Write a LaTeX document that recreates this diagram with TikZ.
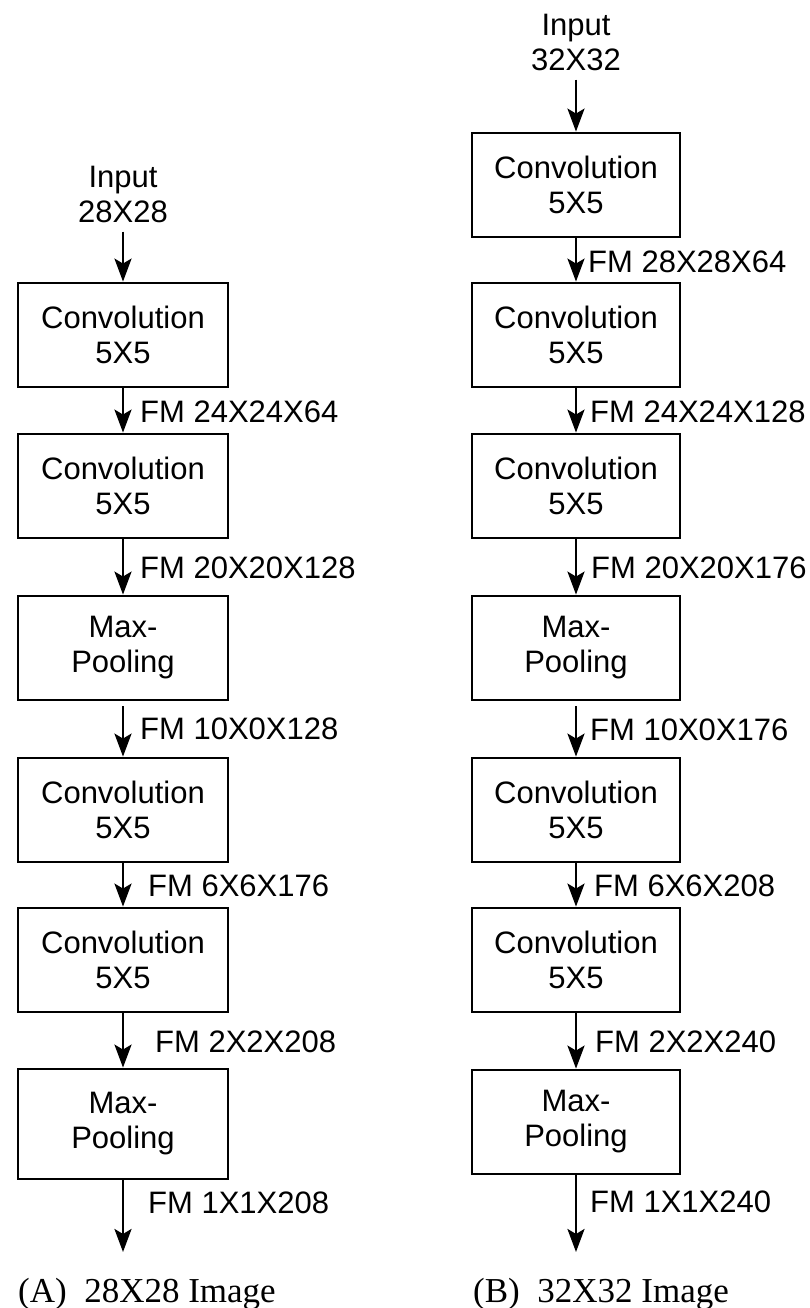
\documentclass[tikz,border=0pt]{standalone}
\usepackage{fontspec}
\setmainfont{Liberation Serif}
\setsansfont{Liberation Sans}
\usepackage{tikz}
\usetikzlibrary{arrows.meta, positioning}
\tikzset{
    layer/.style={draw, line width=2.8pt, minimum width=208pt, minimum height=104pt,
      align=center, font=\sffamily\fontsize{31}{35}\selectfont, inner sep=0pt},
    inp/.style={align=center, font=\sffamily\fontsize{31}{35}\selectfont, inner sep=9pt},
    fm/.style={anchor=west, inner sep=0pt, font=\sffamily\fontsize{31}{35}\selectfont},
    flow/.style={line width=2.8pt, -{Stealth[length=23pt, width=17pt, inset=5pt]}},
    capt/.style={anchor=base west, inner sep=0pt, font=\rmfamily\fontsize{35}{40}\selectfont},
}
\begin{document}
\begin{tikzpicture}[x=1pt, y=-1pt]
    \useasboundingbox (0,0) rectangle (809,1308);

    % (A) 28X28 image
    \node[inp] (ina) at (123,194) {Input\\28X28};
    \node[layer, minimum width=210pt] (a1) at (123,335) {Convolution\\5X5};
    \node[layer, minimum width=210pt] (a2) at (123,486) {Convolution\\5X5};
    \node[layer, minimum width=210pt] (a3) at (123,648) {Max-\\Pooling};
    \node[layer, minimum width=210pt] (a4) at (123,810) {Convolution\\5X5};
    \node[layer, minimum width=210pt] (a5) at (123,960) {Convolution\\5X5};
    \node[layer, minimum width=210pt, minimum height=110pt] (a6) at (123,1124) {Max-\\Pooling};
    \coordinate (outa) at (123,1252);

    \draw[flow] (ina) -- (a1);
    \draw[flow] (a1) -- (a2);
    \draw[flow] (a2) -- (a3);
    \draw[flow] ([yshift=-5pt]a3.south) -- (a4);
    \draw[flow] (a4) -- (a5);
    \draw[flow] (a5) -- (a6);
    \draw[flow] (a6) -- (outa);

    \node[fm] (fa1) at (140,412) {FM 24X24X64};
    \node[fm] (fa2) at (140,568) {FM 20X20X128};
    \node[fm] (fa3) at (140,729) {FM 10X0X128};
    \node[fm] (fa4) at (148,886) {FM 6X6X176};
    \node[fm] (fa5) at (155,1042) {FM 2X2X208};
    \node[fm] (fa6) at (148,1203) {FM 1X1X208};

    \node[capt] (capa) at (18,1302) {(A)\ \ 28X28 Image};

    % (B) 32X32 image
    \node[inp] (inb) at (576,42) {Input\\32X32};
    \node[layer] (b1) at (576,185) {Convolution\\5X5};
    \node[layer] (b2) at (576,335) {Convolution\\5X5};
    \node[layer] (b3) at (576,486) {Convolution\\5X5};
    \node[layer] (b4) at (576,648) {Max-\\Pooling};
    \node[layer] (b5) at (576,810) {Convolution\\5X5};
    \node[layer] (b6) at (576,960) {Convolution\\5X5};
    \node[layer] (b7) at (576,1122) {Max-\\Pooling};
    \coordinate (outb) at (576,1252);

    \draw[flow] (inb) -- (b1);
    \draw[flow] (b1) -- (b2);
    \draw[flow] (b2) -- (b3);
    \draw[flow] (b3) -- (b4);
    \draw[flow] ([yshift=-5pt]b4.south) -- (b5);
    \draw[flow] (b5) -- (b6);
    \draw[flow] (b6) -- (b7);
    \draw[flow] (b7) -- (outb);

    \node[fm] (fb1) at (588,262) {FM 28X28X64};
    \node[fm] (fb2) at (590,412) {FM 24X24X128};
    \node[fm] (fb3) at (591,568) {FM 20X20X176};
    \node[fm] (fb4) at (590,730) {FM 10X0X176};
    \node[fm] (fb5) at (594,886) {FM 6X6X208};
    \node[fm] (fb6) at (595,1042) {FM 2X2X240};
    \node[fm] (fb7) at (590,1202) {FM 1X1X240};

    \node[capt] (capb) at (473,1302) {(B)\ \ 32X32 Image};
\end{tikzpicture}
\end{document}
